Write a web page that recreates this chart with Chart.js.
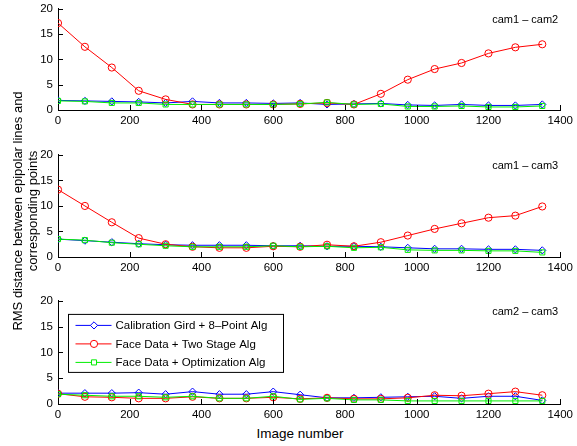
<!DOCTYPE html>
<html>
<head>
<meta charset="utf-8">
<script src="https://cdn.jsdelivr.net/npm/chart.js@4/dist/chart.umd.min.js"></script>
<style>
  html, body { margin: 0; padding: 0; background: #fff; }
  #figure { position: relative; width: 577px; height: 446px; overflow: hidden; font-family: "Liberation Sans", Arial, Helvetica, sans-serif; color: #000; }
  .panel { position: absolute; left: 0; width: 577px; }
  #ylabel { position: absolute; width: 320px; height: 30px; left: -135px; top: 196px; transform: rotate(-90deg); text-align: center; font-size: 13px; line-height: 15px; white-space: nowrap; }
  #xlabel { position: absolute; left: 200px; width: 200px; top: 425px; text-align: center; font-size: 13.5px; line-height: 18px; }
</style>
</head>
<body>
<div id="figure">
  <div class="panel" style="top:-3px"><canvas id="c12" width="577" height="133"></canvas></div>
  <div class="panel" style="top:143px"><canvas id="c13" width="577" height="134"></canvas></div>
  <div class="panel" style="top:289px"><canvas id="c23" width="577" height="135"></canvas></div>
  <div id="ylabel">RMS distance between epipolar lines and<br>corresponding points</div>
  <div id="xlabel">Image number</div>
</div>
<script>
const imageNumbers = [0, 75, 150, 225, 300, 375, 450, 525, 600, 675, 750, 825, 900, 975, 1050, 1125, 1200, 1275, 1350];
const xTicks = [0, 200, 400, 600, 800, 1000, 1200, 1400];
const yTicks = [0, 5, 10, 15, 20];

const seriesNames = ["Calibration Gird + 8\u2013Point Alg", "Face Data + Two Stage Alg", "Face Data + Optimization Alg"];

// cam1 - cam2
const cam12Grid = [1.9, 1.8, 1.7, 1.6, 1.4, 1.7, 1.4, 1.4, 1.3, 1.4, 1.1, 1.2, 1.3, 1.0, 0.9, 1.1, 0.9, 0.9, 1.1];
const cam12TwoStage = [17.2, 12.5, 8.4, 3.8, 2.1, 1.1, 1.1, 1.1, 1.1, 1.2, 1.4, 1.1, 3.2, 6.0, 8.1, 9.3, 11.2, 12.4, 13.0];
const cam12Optim = [1.8, 1.7, 1.4, 1.4, 1.1, 1.1, 1.1, 1.1, 1.1, 1.2, 1.5, 1.1, 1.2, 0.7, 0.7, 0.8, 0.6, 0.6, 0.8];

// cam1 - cam3
const cam13Grid = [3.5, 3.2, 2.9, 2.6, 2.4, 2.3, 2.3, 2.3, 2.2, 2.2, 2.1, 2.1, 2.0, 1.8, 1.6, 1.6, 1.5, 1.5, 1.3];
const cam13TwoStage = [13.2, 10.0, 6.8, 3.7, 2.5, 2.0, 1.8, 1.8, 2.1, 2.0, 2.4, 2.1, 2.9, 4.2, 5.5, 6.6, 7.7, 8.1, 9.9];
const cam13Optim = [3.5, 3.3, 2.8, 2.5, 2.2, 2.0, 2.0, 2.0, 2.2, 2.0, 2.1, 1.8, 1.9, 1.4, 1.3, 1.3, 1.2, 1.2, 0.9];

// cam2 - cam3
const cam23Grid = [2.1, 2.1, 2.1, 2.2, 1.9, 2.4, 1.9, 1.9, 2.4, 1.8, 1.2, 1.2, 1.3, 1.4, 1.5, 1.1, 1.5, 1.5, 0.7];
const cam23TwoStage = [2.0, 1.4, 1.3, 1.1, 1.1, 1.4, 1.1, 1.1, 1.3, 1.0, 1.2, 1.0, 1.0, 1.2, 1.7, 1.6, 2.0, 2.4, 1.7];
const cam23Optim = [1.9, 1.7, 1.5, 1.5, 1.3, 1.5, 1.1, 1.1, 1.5, 0.9, 1.1, 0.8, 0.8, 0.6, 0.6, 0.6, 0.6, 0.6, 0.6];

const FONT = '"Liberation Sans", Arial, Helvetica, sans-serif';
const STYLES = [
  { color: "#0000ff", point: "rectRot", radius: 3.6, order: 3 },
  { color: "#ff0000", point: "circle", radius: 3.6, order: 2 },
  { color: "#00ee00", point: "rect", radius: 3.6, order: 1 },
];

function toPoints(values) {
  return values.map((v, i) => ({ x: imageNumbers[i], y: v }));
}

// ticks pointing into the plot, like the original figure
const innerTicks = {
  id: "innerTicks",
  afterDatasetsDraw(chart) {
    const { ctx, chartArea, scales } = chart;
    ctx.save();
    ctx.strokeStyle = "#000";
    ctx.lineWidth = 1;
    ctx.beginPath();
    for (const t of xTicks) {
      const px = Math.round(scales.x.getPixelForValue(t)) + 0.5;
      ctx.moveTo(px, chartArea.bottom);
      ctx.lineTo(px, chartArea.bottom - 5);
    }
    for (const t of yTicks) {
      const py = Math.round(scales.y.getPixelForValue(t)) + 0.5;
      ctx.moveTo(chartArea.left, py);
      ctx.lineTo(chartArea.left + 5, py);
    }
    ctx.stroke();
    ctx.restore();
  },
};

const panelTitle = {
  id: "panelTitle",
  afterDraw(chart, args, opts) {
    const { ctx, chartArea } = chart;
    ctx.save();
    ctx.font = `11px ${FONT}`;
    ctx.fillStyle = "#000";
    ctx.textAlign = "right";
    ctx.textBaseline = "middle";
    ctx.fillText(opts.text, chartArea.right - 2, chartArea.top + 11);
    ctx.restore();
  },
};

const boxLegend = {
  id: "boxLegend",
  afterDraw(chart, args, opts) {
    if (!opts.show) return;
    const { ctx, chartArea } = chart;
    const left = chartArea.left + 10.5, top = chartArea.top + 13.5;
    const w = 215, h = 58;
    ctx.save();
    ctx.fillStyle = "#fff";
    ctx.fillRect(left, top, w, h);
    ctx.strokeStyle = "#000";
    ctx.lineWidth = 1;
    ctx.strokeRect(left, top, w, h);
    ctx.font = `11.5px ${FONT}`;
    ctx.textBaseline = "middle";
    chart.data.datasets.forEach((ds, i) => {
      const y = top + 11 + i * 18.5;
      ctx.strokeStyle = ds.borderColor;
      ctx.beginPath();
      ctx.moveTo(left + 7, y);
      ctx.lineTo(left + 43, y);
      ctx.stroke();
      ctx.fillStyle = "#fff";
      Chart.helpers.drawPoint(ctx, {
        pointStyle: ds.pointStyle, radius: ds.pointRadius, borderWidth: 1,
      }, left + 25.5, y);
      ctx.fillStyle = "#000";
      ctx.fillText(ds.label, left + 47, y + 0.5);
    });
    ctx.restore();
  },
};

function makePanel(id, title, grid, twoStage, optim, showLegend) {
  const series = [grid, twoStage, optim];
  new Chart(document.getElementById(id), {
    type: "line",
    data: {
      datasets: series.map((values, i) => ({
        label: seriesNames[i],
        data: toPoints(values),
        borderColor: STYLES[i].color,
        backgroundColor: "rgba(0,0,0,0)",
        borderWidth: 1,
        pointStyle: STYLES[i].point,
        pointRadius: STYLES[i].radius,
        pointBorderWidth: 1,
        pointBorderColor: STYLES[i].color,
        pointBackgroundColor: "rgba(0,0,0,0)",
        tension: 0,
        order: STYLES[i].order,
      })),
    },
    options: {
      responsive: false,
      animation: false,
      events: [],
      layout: { padding: { top: 10, right: 14, left: 0, bottom: 0 } },
      plugins: {
        legend: { display: false },
        tooltip: { enabled: false },
        panelTitle: { text: title },
        boxLegend: { show: showLegend },
      },
      scales: {
        x: {
          type: "linear",
          min: 0,
          max: 1400,
          afterBuildTicks: (scale) => { scale.ticks = xTicks.map(v => ({ value: v })); },
          afterFit: (scale) => { scale.height = 20; },
          grid: { display: false, drawTicks: false },
          border: { display: true, color: "#000", width: 1 },
          ticks: { color: "#000", padding: 4, maxRotation: 0, callback: (v) => String(v), font: { family: FONT, size: 11.5 } },
        },
        y: {
          min: 0,
          max: 20,
          afterBuildTicks: (scale) => { scale.ticks = yTicks.map(v => ({ value: v })); },
          afterFit: (scale) => { scale.width = 58; },
          grid: { display: false, drawTicks: false },
          border: { display: true, color: "#000", width: 1 },
          ticks: { color: "#000", padding: 5, callback: (v) => String(v), font: { family: FONT, size: 11.5 } },
        },
      },
    },
    plugins: [innerTicks, panelTitle, boxLegend],
  });
}

makePanel("c12", "cam1 \u2013 cam2", cam12Grid, cam12TwoStage, cam12Optim, false);
makePanel("c13", "cam1 \u2013 cam3", cam13Grid, cam13TwoStage, cam13Optim, false);
makePanel("c23", "cam2 \u2013 cam3", cam23Grid, cam23TwoStage, cam23Optim, true);
</script>
</body>
</html>
